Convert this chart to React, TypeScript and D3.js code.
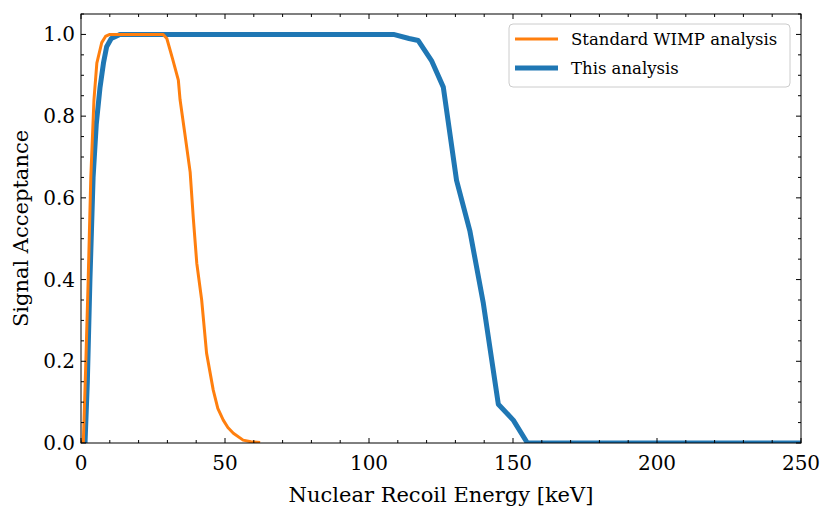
import * as d3 from "d3";

// Standard WIMP analysis (orange)
const stdEnergy = [0, 0.8, 1.6, 2.5, 3.4, 4.5, 5.5, 7.2, 8.5, 10, 15, 20, 25, 28.5, 29.8, 31.8, 33.8, 34.4, 36, 37.9, 39, 40.2, 41.9, 43.6, 45.9, 47.5, 49.4, 51, 52.9, 56.3, 59, 62.2];
const stdAcc = [0, 0.0, 0.18, 0.4, 0.65, 0.84, 0.93, 0.98, 0.995, 1.0, 1.0, 1.0, 1.0, 1.0, 0.99, 0.94, 0.888, 0.84, 0.76, 0.663, 0.55, 0.44, 0.35, 0.22, 0.13, 0.085, 0.056, 0.038, 0.024, 0.007, 0.003, 0.001];

// This analysis (blue)
const thisEnergy = [0, 1.4, 2.2, 3.1, 4.2, 5.3, 6.6, 7.8, 8.9, 10.5, 13.5, 20, 40, 60, 80, 100, 108.5, 113.9, 117.1, 121.7, 125.8, 130.4, 135, 139.7, 144.9, 150.1, 155, 160, 200, 250];
const thisAcc = [0, 0, 0.15, 0.4, 0.65, 0.78, 0.87, 0.93, 0.97, 0.99, 1.0, 1.0, 1.0, 1.0, 1.0, 1.0, 1.0, 0.99, 0.985, 0.936, 0.871, 0.643, 0.52, 0.342, 0.095, 0.056, 0, 0, 0, 0];

const xMajor = [0, 50, 100, 150, 200, 250];
const yMajor = [0, 0.2, 0.4, 0.6, 0.8, 1.0];
const legendLabels = ["Standard WIMP analysis", "This analysis"];

const W = 830;
const H = 518;
const margin = { left: 81, right: 29, top: 14, bottom: 75 };
const FONT = "'DejaVu Serif', serif";

export default function App() {
  const x = d3.scaleLinear().domain([0, 250]).range([margin.left, W - margin.right]);
  const y = d3.scaleLinear().domain([0, 1.05]).range([H - margin.bottom, margin.top]);
  const [x0, x1] = x.range();
  const [y0, y1] = y.range();

  const line = d3
    .line<[number, number]>()
    .x((d) => x(d[0]))
    .y((d) => y(d[1]));

  const stdPts = stdEnergy.map((e, i) => [e, stdAcc[i]] as [number, number]);
  const thisPts = thisEnergy.map((e, i) => [e, thisAcc[i]] as [number, number]);

  const xMinor = d3.range(0, 251, 10).filter((v) => v % 50 !== 0);
  const yMinor = d3.range(0, 1.051, 0.05).filter((v) => Math.abs(v * 5 - Math.round(v * 5)) > 1e-6);

  const maj = 5;
  const min = 3;

  return (
    <svg width={W} height={H} style={{ position: "absolute", left: 0, top: 0, background: "#fff" }}>
      <defs>
        <clipPath id="plot">
          <rect x={x0} y={y1} width={x1 - x0} height={y0 - y1} />
        </clipPath>
      </defs>
      <g clipPath="url(#plot)">
        <path d={line(thisPts) ?? ""} fill="none" stroke="#1f77b4" strokeWidth={5} strokeLinejoin="round" />
        <path d={line(stdPts) ?? ""} fill="none" stroke="#ff7f0e" strokeWidth={3} strokeLinejoin="round" />
      </g>
      {/* ticks */}
      <g stroke="#000" strokeWidth={1}>
        {xMajor.map((v) => (
          <g key={"xM" + v}>
            <line x1={x(v)} x2={x(v)} y1={y0} y2={y0 - maj} />
            <line x1={x(v)} x2={x(v)} y1={y1} y2={y1 + maj} />
          </g>
        ))}
        {xMinor.map((v) => (
          <g key={"xm" + v}>
            <line x1={x(v)} x2={x(v)} y1={y0} y2={y0 - min} />
            <line x1={x(v)} x2={x(v)} y1={y1} y2={y1 + min} />
          </g>
        ))}
        {yMajor.map((v) => (
          <g key={"yM" + v}>
            <line x1={x0} x2={x0 + maj} y1={y(v)} y2={y(v)} />
            <line x1={x1} x2={x1 - maj} y1={y(v)} y2={y(v)} />
          </g>
        ))}
        {yMinor.map((v) => (
          <g key={"ym" + v}>
            <line x1={x0} x2={x0 + min} y1={y(v)} y2={y(v)} />
            <line x1={x1} x2={x1 - min} y1={y(v)} y2={y(v)} />
          </g>
        ))}
        <rect x={x0} y={y1} width={x1 - x0} height={y0 - y1} fill="none" />
      </g>
      {/* tick labels */}
      <g fontFamily={FONT} fontSize={20} fill="#000">
        {xMajor.map((v) => (
          <text key={"xl" + v} x={x(v)} y={y0 + 27} textAnchor="middle">
            {v}
          </text>
        ))}
        {yMajor.map((v) => (
          <text key={"yl" + v} x={x0 - 6} y={y(v) + 7} textAnchor="end">
            {v.toFixed(1)}
          </text>
        ))}
      </g>
      <text x={(x0 + x1) / 2} y={502} textAnchor="middle" fontFamily={FONT} fontSize={21}>
        Nuclear Recoil Energy [keV]
      </text>
      <text
        transform={`translate(28,${(y0 + y1) / 2}) rotate(-90)`}
        textAnchor="middle"
        fontFamily={FONT}
        fontSize={21}
      >
        Signal Acceptance
      </text>
      {/* legend */}
      <g>
        <rect x={509} y={24} width={281} height={63} rx={4} fill="#fff" fillOpacity={0.8} stroke="#ccc" strokeWidth={1} />
        <line x1={515} x2={558} y1={39} y2={39} stroke="#ff7f0e" strokeWidth={3} />
        <line x1={515} x2={558} y1={68} y2={68} stroke="#1f77b4" strokeWidth={5} />
        <text x={571} y={45} fontFamily={FONT} fontSize={16.5}>
          {legendLabels[0]}
        </text>
        <text x={571} y={74} fontFamily={FONT} fontSize={16.5}>
          {legendLabels[1]}
        </text>
      </g>
    </svg>
  );
}
